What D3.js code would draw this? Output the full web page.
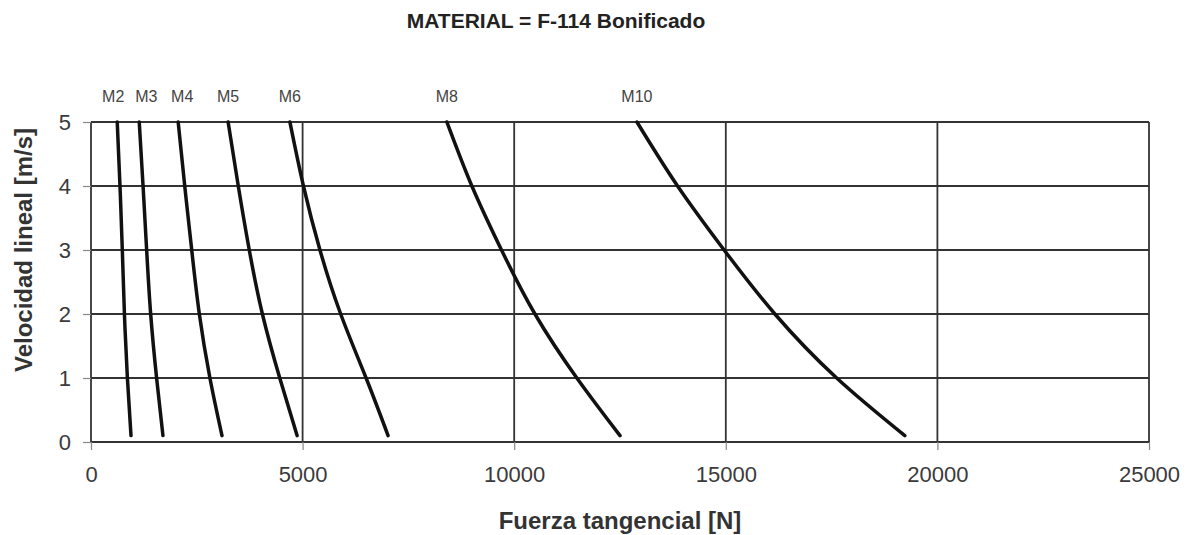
<!DOCTYPE html>
<html>
<head>
<meta charset="utf-8">
<script src="https://cdn.jsdelivr.net/npm/d3@7"></script>
<style>
  body { margin: 0; background: #fff; }
  text { font-family: "Liberation Sans", Arial, sans-serif; }
  .axis text { fill: #3a3a3a; font-size: 22px; }
</style>
</head>
<body>
<div id="chart"></div>
<script>
// velocity points (m/s) where each curve was read
var velocities = [5, 4, 3, 2, 1, 0.1];
var sizes = ['M2', 'M3', 'M4', 'M5', 'M6', 'M8', 'M10'];
// tangential force (N) at each velocity, per size
var forces = {
  M2:  [620, 685, 740, 790, 860, 945],
  M3:  [1140, 1230, 1315, 1410, 1550, 1700],
  M4:  [2060, 2215, 2380, 2560, 2810, 3095],
  M5:  [3240, 3480, 3740, 4050, 4460, 4870],
  M6:  [4700, 5020, 5410, 5900, 6500, 7020],
  M8:  [8410, 9000, 9700, 10490, 11480, 12500],
  M10: [12900, 13860, 14960, 16160, 17620, 19230]
};
var xTicks = [0, 5000, 10000, 15000, 20000, 25000];
var yTicks = [0, 1, 2, 3, 4, 5];

var width = 1192, height = 535;
var margin = {left: 91, right: 43, top: 122, bottom: 93};

var svg = d3.select('#chart').append('svg')
  .attr('width', width)
  .attr('height', height);

var x = d3.scaleLinear().domain([0, 25000]).range([margin.left, width - margin.right]);
var y = d3.scaleLinear().domain([0, 5]).range([height - margin.bottom, margin.top]);

// grid
svg.append('g').selectAll('line')
  .data(xTicks).enter().append('line')
  .attr('x1', function(d) { return x(d); }).attr('x2', function(d) { return x(d); })
  .attr('y1', y(5)).attr('y2', y(0))
  .attr('stroke', '#333').attr('stroke-width', 1.8);
svg.append('g').selectAll('line')
  .data(yTicks).enter().append('line')
  .attr('x1', x(0)).attr('x2', x(25000))
  .attr('y1', function(d) { return y(d); }).attr('y2', function(d) { return y(d); })
  .attr('stroke', '#333').attr('stroke-width', 1.8);

// axes
var xAxis = svg.append('g').attr('class', 'axis')
  .attr('transform', 'translate(0,' + y(0) + ')')
  .call(d3.axisBottom(x).tickValues(xTicks).tickFormat(d3.format('d')).tickSize(8).tickPadding(16));
var yAxis = svg.append('g').attr('class', 'axis')
  .attr('transform', 'translate(' + x(0) + ',0)')
  .call(d3.axisLeft(y).tickValues(yTicks).tickFormat(d3.format('d')).tickSize(8).tickPadding(12));
[xAxis, yAxis].forEach(function(a) {
  a.select('.domain').remove();
  a.selectAll('.tick line').attr('stroke', '#888').attr('stroke-width', 1.2);
});

// curves
var line = d3.line()
  .curve(d3.curveNatural)
  .x(function(d) { return x(d.f); })
  .y(function(d) { return y(d.v); });

svg.append('g').selectAll('path')
  .data(sizes).enter().append('path')
  .attr('fill', 'none')
  .attr('stroke', '#111')
  .attr('stroke-width', 3.5)
  .attr('stroke-linecap', 'round')
  .attr('d', function(s) {
    return line(velocities.map(function(v, i) { return {v: v, f: forces[s][i]}; }));
  });

// curve labels
var labelShift = {M2: -4, M3: 7, M4: 4};
svg.append('g').selectAll('text')
  .data(sizes).enter().append('text')
  .attr('x', function(s) { return x(forces[s][0]) + (labelShift[s] || 0); })
  .attr('y', 102)
  .attr('text-anchor', 'middle')
  .attr('fill', '#444')
  .style('font-size', '16px')
  .text(function(s) { return s; });

// titles
svg.append('text')
  .attr('x', 556).attr('y', 28)
  .attr('text-anchor', 'middle')
  .style('font-size', '21px').style('font-weight', 'bold')
  .attr('fill', '#222')
  .text('MATERIAL = F-114 Bonificado');

svg.append('text')
  .attr('x', 620).attr('y', 529)
  .attr('text-anchor', 'middle')
  .style('font-size', '24px').style('font-weight', 'bold')
  .attr('fill', '#333')
  .text('Fuerza tangencial [N]');

svg.append('text')
  .attr('transform', 'translate(32,' + 250 + ') rotate(-90)')
  .attr('text-anchor', 'middle')
  .style('font-size', '24px').style('font-weight', 'bold')
  .attr('fill', '#333')
  .text('Velocidad lineal [m/s]');
</script>
</body>
</html>
